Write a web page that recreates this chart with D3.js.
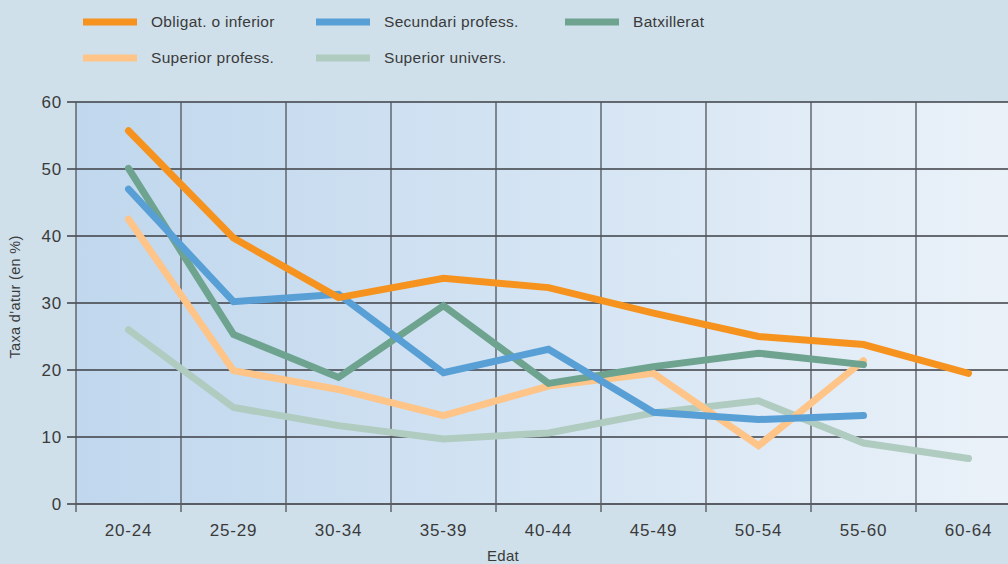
<!DOCTYPE html>
<html><head><meta charset="utf-8">
<script src="https://cdn.jsdelivr.net/npm/d3@7"></script>
<style>
html,body{margin:0;padding:0;background:#cfe0eb;}
svg{display:block;font-family:"Liberation Sans",Arial,Helvetica,sans-serif;}
</style></head>
<body>
<svg id="chart" width="1008" height="564"></svg>
<script>
const categories = ["20-24","25-29","30-34","35-39","40-44","45-49","50-54","55-60","60-64"];
const seriesNames = ["Obligat. o inferior","Secundari profess.","Batxillerat","Superior profess.","Superior univers."];
const obligat   = [55.7, 39.7, 30.8, 33.7, 32.3, 28.5, 25.0, 23.8, 19.5];
const secundari = [47.0, 30.2, 31.3, 19.6, 23.1, 13.7, 12.6, 13.2, null];
const batxiller = [50.1, 25.3, 18.9, 29.6, 18.0, 20.5, 22.5, 20.8, null];
const supProf   = [42.5, 19.9, 17.1, 13.2, 17.6, 19.5, 8.7, 21.4, null];
const supUniv   = [26.0, 14.4, 11.7, 9.7, 10.6, 13.6, 15.4, 9.1, 6.8];
const yTicks = [0,10,20,30,40,50,60];
const colors = ["#f6921e","#589fd5","#6ea48f","#fec488","#b0cbc0"];

const svg = d3.select("#chart");
const mLeft = 76, mTop = 102, mBottom = 504, mRight = 1021;
const x = d3.scaleBand().domain(categories).range([mLeft, mRight]).paddingInner(0).paddingOuter(0);
const y = d3.scaleLinear().domain([0,60]).range([mBottom, mTop]);

const defs = svg.append("defs");
const grad = defs.append("linearGradient").attr("id","bg").attr("x1","0").attr("x2","1").attr("y1","0").attr("y2","0");
grad.append("stop").attr("offset","0").attr("stop-color","#c0d7ed");
grad.append("stop").attr("offset","0.5").attr("stop-color","#d4e4f3");
grad.append("stop").attr("offset","1").attr("stop-color","#ebf2f9");

svg.append("rect").attr("x",mLeft).attr("y",mTop).attr("width",mRight-mLeft).attr("height",mBottom-mTop).attr("fill","url(#bg)");

// gridlines
const g = svg.append("g");
g.selectAll("line.h").data(yTicks).join("line")
  .attr("x1",mLeft-9).attr("x2",mRight).attr("y1",d=>y(d)).attr("y2",d=>y(d))
  .attr("stroke","#3c3f44").attr("stroke-width",1.3);
g.selectAll("line.v").data(categories).join("line")
  .attr("x1",d=>x(d)).attr("x2",d=>x(d)).attr("y1",mTop).attr("y2",mBottom+8)
  .attr("stroke","#50545a").attr("stroke-width",1.3);
g.append("line").attr("x1",mLeft).attr("x2",mRight).attr("y1",y(0)).attr("y2",y(0)).attr("stroke","#5a5e64").attr("stroke-width",2);

// tick labels
svg.append("g").selectAll("text").data(yTicks).join("text")
  .attr("x",62).attr("y",d=>y(d)).attr("dy","0.35em").attr("text-anchor","end")
  .attr("font-size",17).attr("letter-spacing",0.8).attr("fill","#3a3a3a").text(d=>d);
svg.append("g").selectAll("text").data(categories).join("text")
  .attr("x",d=>x(d)+x.bandwidth()/2).attr("y",530).attr("dy","0.35em").attr("text-anchor","middle")
  .attr("font-size",17).attr("letter-spacing",0.8).attr("fill","#3a3a3a").text(d=>d);

svg.append("text").attr("transform","translate(20,297) rotate(-90)").attr("text-anchor","middle")
  .attr("font-size",14.5).attr("letter-spacing",0.3).attr("fill","#3a3a3a").text("Taxa d\u2019atur (en %)");
svg.append("text").attr("x",503).attr("y",556).attr("dy","0.35em").attr("text-anchor","middle")
  .attr("font-size",15).attr("letter-spacing",0.3).attr("fill","#3a3a3a").text("Edat");

// lines
const allSeries = [obligat, secundari, batxiller, supProf, supUniv];
const line = d3.line().defined(d=>d.v!=null).x(d=>x(d.c)+x.bandwidth()/2).y(d=>y(d.v));
const drawOrder = [4,3,2,1,0];
drawOrder.forEach(i=>{
  const data = categories.map((c,j)=>({c, v: allSeries[i][j]}));
  svg.append("path").attr("d",line(data)).attr("fill","none")
    .attr("stroke",colors[i]).attr("stroke-width",7).attr("stroke-linecap","round").attr("stroke-linejoin","miter");
});

// legend
const legendPos = [[83,22],[316,22],[565,22],[83,58],[316,58]];
const lg = svg.append("g");
seriesNames.forEach((n,i)=>{
  const [lx,ly] = legendPos[i];
  lg.append("line").attr("x1",lx).attr("x2",lx+54).attr("y1",ly).attr("y2",ly).attr("stroke",colors[i]).attr("stroke-width",7);
  lg.append("text").attr("x",lx+68).attr("y",ly).attr("dy","0.35em").attr("font-size",15.5).attr("letter-spacing",0.3).attr("fill","#3a3a3a").text(n);
});
</script>
</body></html>
